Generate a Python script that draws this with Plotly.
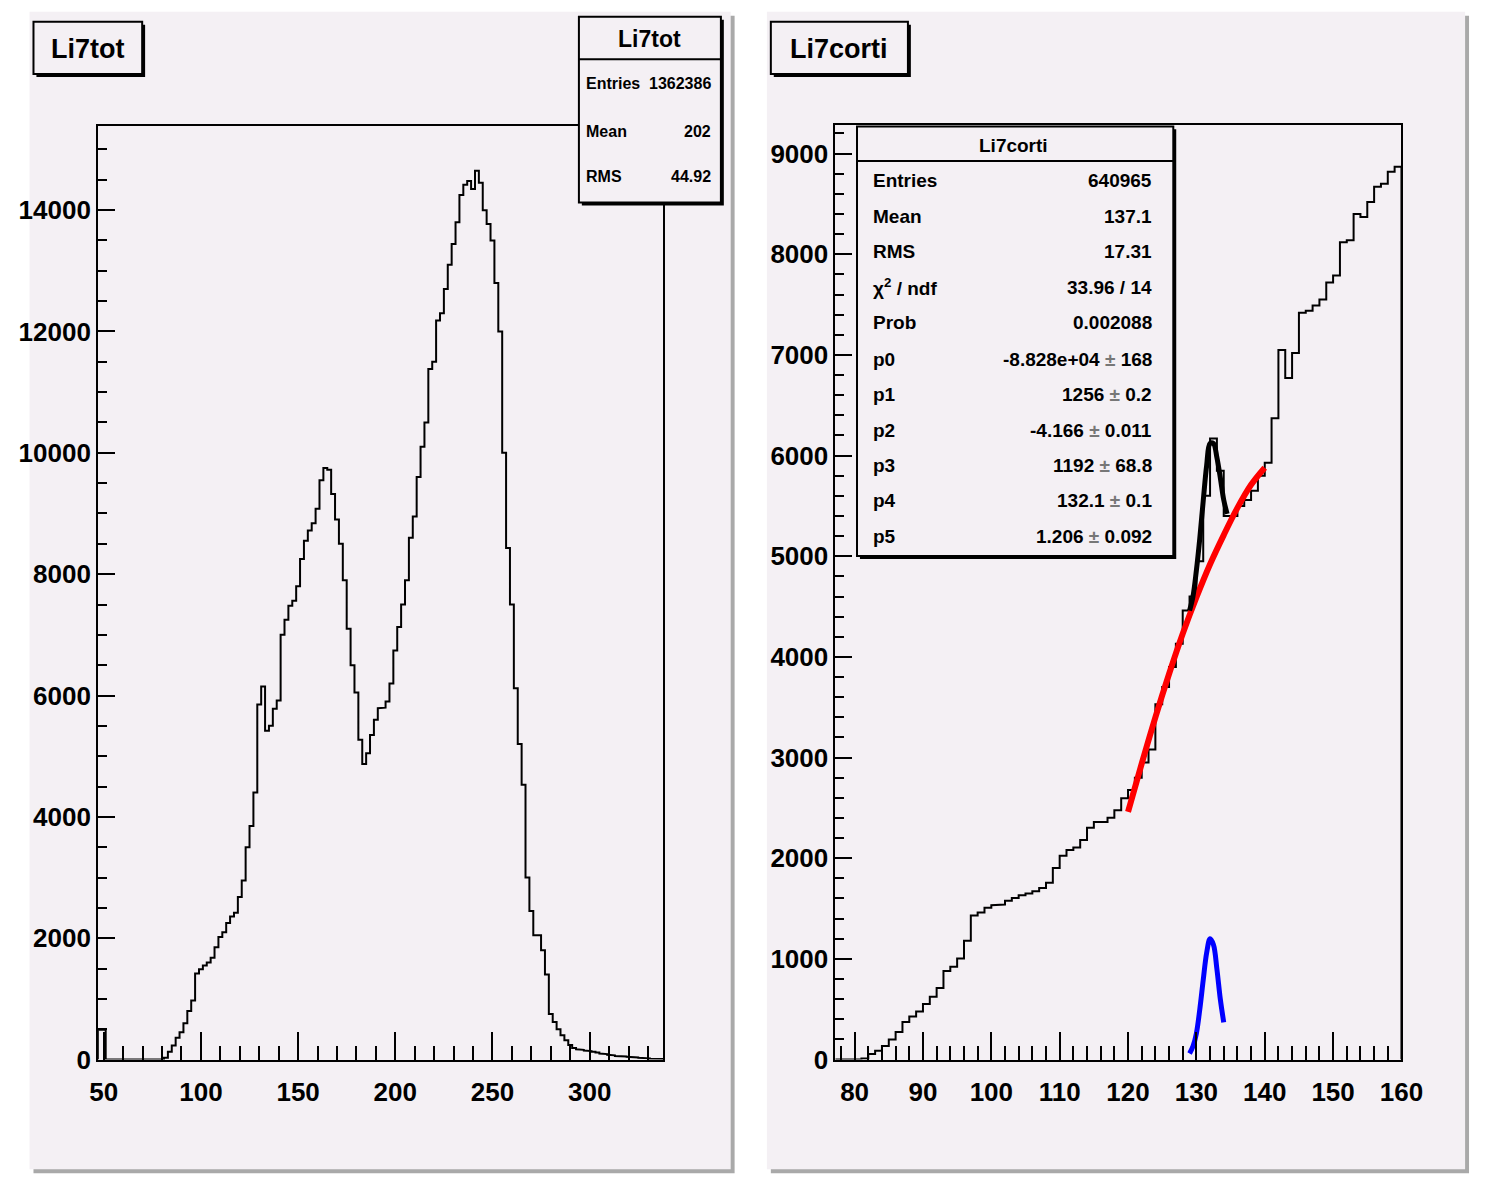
import numpy as np
import plotly.graph_objects as go

W, H = 1492, 1198

# ---------------- data: Li7tot (left) ----------------
tot_bin_width = 2
tot_first_edge = 47
tot_counts = [
    490, 490,
    0, 0, 0, 0, 0, 0, 0, 0, 0, 0, 0, 0, 0, 0, 0,
    30, 130, 230, 360, 450, 600, 800, 975, 1420, 1490,
    1550, 1600, 1680, 1850, 2020, 2100, 2250, 2360, 2420, 2680,
    2950, 3500, 3850, 4400, 5850, 6150, 5420, 5500, 5780, 5920,
    7000, 7250, 7480, 7560, 7800, 8250, 8550, 8720, 8840, 9080,
    9550, 9750, 9720, 9320, 8900, 8500, 7900, 7100, 6500, 6050,
    5270, 4870, 5050, 5350, 5600, 5790, 5800, 5900, 6200, 6740,
    7130, 7500, 7900, 8600, 8950, 9600, 10100, 10500, 11380, 11500,
    12180, 12300, 12700, 13100, 13440, 13800, 14250, 14420, 14480, 14350,
    14650, 14450, 14000, 13770, 13500, 12800, 12000, 10000, 8430, 7500,
    6120, 5200, 4530, 3000, 2450, 2050, 2050, 1800, 1400, 750,
    620, 500, 400, 320, 240, 190, 170, 160, 150, 140,
    130, 115, 100, 90, 80, 70, 60, 55, 50, 45,
    40, 35, 30, 25, 20, 15, 12, 10, 8,
]
tot_xrange = [47.1, 337.8]
tot_yrange = [0, 15380]

# ---------------- data: Li7corti (right) ----------------
corti_bin_width = 1
corti_first_edge = 77
corti_counts = [
    0, 0, 0, 0, 10, 56, 88, 134, 200, 275,
    373, 429, 478, 553, 625, 710, 880, 922, 1004, 1181,
    1430, 1462, 1508, 1534, 1540, 1577, 1606, 1632, 1649, 1671,
    1704, 1757, 1904, 2025, 2081, 2107, 2182, 2303, 2359, 2359,
    2401, 2476, 2597, 2679, 2800, 2950, 3080, 3530, 3700, 3900,
    4130, 4460, 4600, 4950, 5600, 6170, 5850, 5400, 5400, 5500,
    5560, 5650, 5800, 5930, 6370, 7050, 6770, 7020, 7420, 7440,
    7490, 7550, 7720, 7790, 8120, 8140, 8400, 8370, 8520, 8670,
    8700, 8820, 8870,
]
corti_xrange = [77.2, 160.0]
corti_yrange = [0, 9280]

# fit curves
bkg_fit_x = [120, 122, 124, 126, 128, 130, 132, 134, 136, 138, 140]
bkg_fit_y = [2460, 2940, 3400, 3830, 4230, 4590, 4920, 5210, 5480, 5710, 5880]
tot_fit_x = [129, 129.5, 130, 130.5, 131, 131.5, 132, 132.5, 133, 133.5, 134, 134.5]
tot_fit_y = [4460, 4600, 4860, 5180, 5550, 5900, 6120, 6120, 5980, 5780, 5560, 5420]
gaus_fit_x = [129, 129.5, 130, 130.5, 131, 131.5, 132, 132.5, 133, 133.5, 134]
gaus_fit_y = [60, 130, 260, 500, 790, 1060, 1200, 1140, 900, 600, 370]

# stats box texts
PM = " <span style='color:#777777'>±</span> "
tot_stats = [("Entries", "1362386"), ("Mean", "202"), ("RMS", "44.92")]
corti_stats = [
    ("Entries", "640965"), ("Mean", "137.1"), ("RMS", "17.31"),
    ("χ<sup>2</sup> / ndf", "33.96 / 14"), ("Prob", "0.002088"),
    ("p0", "-8.828e+04" + PM + "168"), ("p1", "1256" + PM + "0.2"),
    ("p2", "-4.166" + PM + "0.011"), ("p3", "1192" + PM + "68.8"),
    ("p4", "132.1" + PM + "0.1"), ("p5", "1.206" + PM + "0.092"),
]

FONT = "Liberation Sans, Arial, Helvetica, sans-serif"
PAD = "#f4f0f4"


def step_xy(first_edge, width, counts):
    edges = first_edge + width * np.arange(len(counts) + 1)
    xs = np.repeat(edges, 2)
    ys = np.concatenate([[0], np.repeat(counts, 2), [0]])
    return xs, ys


def px(x):
    return x / W


def py(y):
    return 1 - y / H


fig = go.Figure()

tx, ty = step_xy(tot_first_edge, tot_bin_width, tot_counts)
fig.add_trace(go.Scatter(x=tx, y=ty, mode="lines", line=dict(color="black", width=2),
                         xaxis="x", yaxis="y", showlegend=False, hoverinfo="skip"))
cx, cy = step_xy(corti_first_edge, corti_bin_width, corti_counts)
fig.add_trace(go.Scatter(x=cx, y=cy, mode="lines", line=dict(color="black", width=2),
                         xaxis="x2", yaxis="y2", showlegend=False, hoverinfo="skip"))
fig.add_trace(go.Scatter(x=bkg_fit_x, y=bkg_fit_y, mode="lines",
                         line=dict(color="#ff0000", width=6, shape="spline"),
                         xaxis="x2", yaxis="y2", showlegend=False))
fig.add_trace(go.Scatter(x=tot_fit_x, y=tot_fit_y, mode="lines",
                         line=dict(color="black", width=5, shape="spline"),
                         xaxis="x2", yaxis="y2", showlegend=False))
fig.add_trace(go.Scatter(x=gaus_fit_x, y=gaus_fit_y, mode="lines",
                         line=dict(color="#0000ff", width=5, shape="spline"),
                         xaxis="x2", yaxis="y2", showlegend=False))

tickfont = dict(family=FONT, size=26, color="black", weight="bold")


def xaxis(domain, rng, dtick, minor_dtick, anchor):
    return dict(domain=domain, range=rng, anchor=anchor, showgrid=False, zeroline=False,
                showline=True, mirror=True, linecolor="black", linewidth=2,
                ticks="inside", ticklen=28, tickwidth=2, tickcolor="black",
                tick0=0, dtick=dtick, tickformat="d", tickfont=tickfont,
                minor=dict(ticks="inside", ticklen=14, tickwidth=2, tickcolor="black",
                           dtick=minor_dtick, tick0=0, showgrid=False),
                ticklabelstandoff=8)


def yaxis(domain, rng, dtick, minor_dtick, anchor):
    return dict(domain=domain, range=rng, anchor=anchor, showgrid=False, zeroline=False,
                showline=True, mirror=True, linecolor="black", linewidth=2,
                ticks="inside", ticklen=17, tickwidth=2, tickcolor="black",
                tick0=0, dtick=dtick, tickformat="d", tickfont=tickfont,
                minor=dict(ticks="inside", ticklen=9, tickwidth=2, tickcolor="black",
                           dtick=minor_dtick, tick0=0, showgrid=False),
                ticklabelstandoff=0)


shapes = []
annotations = []


def rect(x0, y0, x1, y1, fill, line_color=None, lw=0, layer="below"):
    shapes.append(dict(type="rect", xref="paper", yref="paper",
                       x0=px(x0), x1=px(x1), y0=py(y1), y1=py(y0),
                       fillcolor=fill, layer=layer,
                       line=dict(color=line_color or fill, width=lw)))


def hline(x0, x1, y, lw=2, layer="above"):
    shapes.append(dict(type="line", xref="paper", yref="paper",
                       x0=px(x0), x1=px(x1), y0=py(y), y1=py(y), layer=layer,
                       line=dict(color="black", width=lw)))


def text(x, y, s, size, xanchor="center"):
    annotations.append(dict(xref="paper", yref="paper", x=px(x), y=py(y), text=s,
                            showarrow=False, xanchor=xanchor, yanchor="middle",
                            font=dict(family=FONT, size=size, color="black", weight="bold")))


# pads with shadows
rect(25, 16, 741, 1188, "#a9a9a9")
rect(21, 12, 737, 1184, PAD)
rect(778, 16, 1491, 1188, "#a9a9a9")
rect(774, 12, 1487, 1184, PAD)

# title boxes
for (x0, y0, x1, y1, label) in [(25, 22, 136, 75, "Li7tot"), (778, 22, 918, 75, "Li7corti")]:
    rect(x0 + 3, y0 + 3, x1 + 3, y1 + 3, "black", layer="above")
    rect(x0, y0, x1, y1, PAD, "black", 2, layer="above")
    text((x0 + x1) / 2, (y0 + y1) / 2 + 1, label, 27)

# left stats box
rect(585, 20, 730, 208, "black", layer="above")
rect(582, 17, 727, 205, PAD, "black", 2, layer="above")
hline(582, 727, 60)
text(654, 39, "Li7tot", 23)
for (lab, val), yy in zip(tot_stats, [85, 133, 179]):
    text(587, yy, lab, 16, "left")
    text(719, yy, val, 16, "right")

# right stats box
rect(869, 131, 1192, 566, "black", layer="above")
rect(866, 128, 1189, 563, PAD, "black", 2, layer="above")
hline(866, 1189, 163)
text(1026, 147, "Li7corti", 19)
for (lab, val), yy in zip(corti_stats, [183, 219, 255, 291, 327, 364, 400, 436, 471, 507, 543]):
    text(880, yy, lab, 19, "left")
    text(1169, yy, val, 19, "right")

fig.update_layout(
    width=W, height=H, margin=dict(l=0, r=0, t=0, b=0),
    paper_bgcolor="white", plot_bgcolor=PAD, showlegend=False,
    xaxis=xaxis([px(91), px(668)], tot_xrange, 50, 10, "y"),
    yaxis=yaxis([py(1073), py(128)], tot_yrange, 2000, 500, "x"),
    xaxis2=xaxis([px(844), px(1422)], corti_xrange, 10, 2, "y2"),
    yaxis2=yaxis([py(1073), py(127)], corti_yrange, 1000, 200, "x2"),
    shapes=shapes, annotations=annotations,
)

fig.write_html("out.html")
